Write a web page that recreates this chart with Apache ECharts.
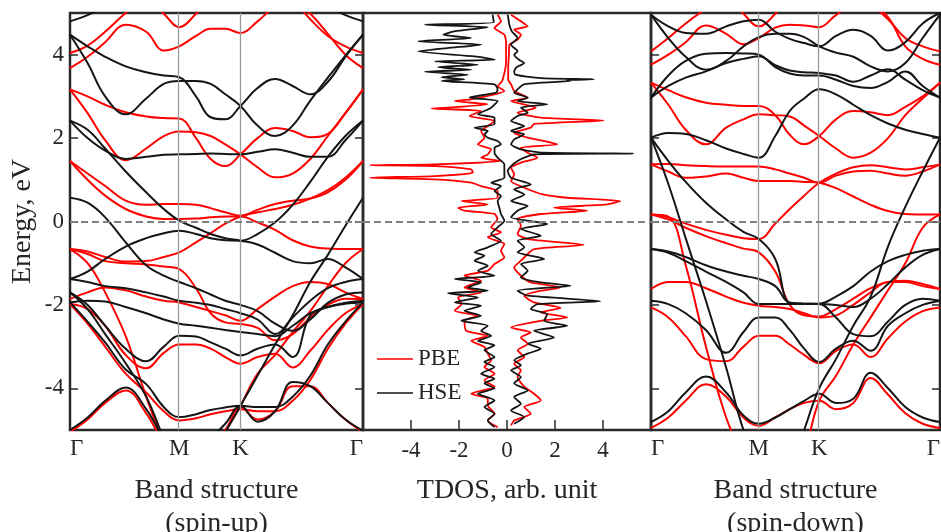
<!DOCTYPE html>
<html>
<head>
<meta charset="utf-8">
<script src="https://cdn.jsdelivr.net/npm/echarts@6/dist/echarts.min.js"></script>
<style>
html,body{margin:0;padding:0;background:#fff;}
#chart{width:941px;height:532px;}
</style>
</head>
<body>
<div id="chart"></div>
<script>
// ---------- axes / ticks ----------
const kGrid = [0, 0.06, 0.12, 0.19, 0.26, 0.32, 0.373, 0.43, 0.48, 0.53, 0.582, 0.64, 0.7, 0.76, 0.82, 0.88, 0.94, 1.0];
const kTicks = [0, 0.373, 0.582, 1];
const kLabels = ['Γ', 'M', 'K', 'Γ'];
const energyTicks = [-4, -2, 0, 2, 4];
const dosTicks = [-4, -2, 0, 2, 4];

// ---------- band structure, spin-up (energies at kGrid) ----------
const upPBE = [
  [4.04, 4.22, 4.55, 5.0, 5.35, 4.98, 4.66, 4.98, 5.35, 5.5, 5.6, 5.6, 5.5, 5.3, 4.85, 4.45, 4.2, 4.04],
  [3.68, 3.95, 4.3, 4.72, 4.55, 4.1, 4.2, 4.45, 4.62, 4.62, 4.52, 4.8, 5.15, 5.3, 4.98, 4.5, 4.0, 3.68],
  [3.17, 3.0, 2.8, 2.62, 2.52, 2.48, 2.47, 2.0, 1.5, 1.33, 1.61, 2.0, 2.24, 2.17, 2.02, 2.1, 2.6, 3.17],
  [3.17, 2.6, 1.95, 1.47, 1.75, 2.05, 2.16, 2.14, 2.05, 1.85, 1.61, 1.3, 1.06, 1.15, 1.5, 2.05, 2.6, 3.17],
  [1.45, 1.15, 0.85, 0.5, 0.4, 0.42, 0.42, 0.4, 0.32, 0.22, 0.14, 0.28, 0.42, 0.5, 0.55, 0.7, 1.0, 1.45],
  [1.45, 1.0, 0.62, 0.3, 0.12, 0.06, 0.06, 0.07, 0.1, 0.12, 0.12, -0.02, -0.2, -0.45, -0.6, -0.65, -0.66, -0.66],
  [-0.66, -0.72, -0.85, -0.96, -0.95, -0.85, -0.74, -0.5, -0.28, -0.05, 0.12, 0.22, 0.3, 0.4, 0.55, 0.75, 1.05, 1.45],
  [-0.66, -0.78, -0.95, -1.0, -1.03, -1.08, -1.14, -1.6, -2.2, -2.42, -2.46, -2.55, -2.85, -2.7, -2.3, -2.0, -1.85, -1.86],
  [-1.86, -1.7, -1.58, -1.65, -1.8, -1.9, -1.94, -2.05, -2.15, -2.25, -2.38, -2.1, -1.8, -1.55, -1.45, -1.5, -1.7, -1.86],
  [-1.98, -2.1, -2.5, -3.2, -3.52, -3.15, -2.95, -2.95, -3.05, -3.25, -3.41, -3.25, -3.17, -3.5, -3.1, -2.6, -2.2, -1.98],
  [-1.98, -2.45, -3.0, -3.65, -4.1, -4.55, -4.77, -4.72, -4.62, -4.55, -4.5, -4.55, -4.55, -4.3, -3.8, -3.05, -2.45, -1.98],
  [-5.05, -4.75, -4.35, -4.05, -4.6, -5.3, -5.7, -5.6, -5.3, -5.0, -4.45, -4.75, -4.55, -3.95, -3.95, -4.35, -4.75, -5.05],
  [-0.66, -1.0, -1.7, -2.75, -4.2, -5.3, -6.0, -6.3, -5.8, -5.05, -4.42, -3.65, -3.2, -2.65, -2.15, -1.55, -1.0, -0.66]
];
const upHSE = [
  [4.8, 4.95, 5.15, 5.4, 5.6, 5.6, 5.6, 5.6, 5.6, 5.6, 5.6, 5.6, 5.6, 5.6, 5.4, 5.15, 4.95, 4.8],
  [4.48, 4.2, 3.95, 3.72, 3.58, 3.5, 3.46, 3.0, 2.5, 2.45, 2.77, 3.2, 3.42, 3.25, 3.05, 3.35, 3.95, 4.48],
  [4.48, 3.8, 3.0, 2.57, 2.95, 3.3, 3.37, 3.37, 3.3, 3.05, 2.77, 2.3, 2.05, 2.3, 2.9, 3.45, 3.98, 4.48],
  [2.42, 2.0, 1.7, 1.5, 1.55, 1.6, 1.61, 1.62, 1.63, 1.62, 1.61, 1.67, 1.73, 1.65, 1.55, 1.55, 1.95, 2.42],
  [2.42, 2.2, 1.75, 1.2, 0.7, 0.3, 0.02, -0.15, -0.3, -0.4, -0.46, -0.55, -0.75, -0.95, -1.0, -0.9, -1.1, -1.38],
  [-1.38, -1.2, -0.9, -0.6, -0.4, -0.28, -0.22, -0.3, -0.4, -0.45, -0.46, -0.3, -0.02, 0.4, 0.95, 1.55, 2.05, 2.42],
  [0.57, 0.45, 0.1, -0.5, -1.05, -1.3, -1.45, -1.6, -1.75, -1.9, -2.0, -2.15, -2.45, -2.62, -2.35, -1.95, -1.75, -1.7],
  [-1.7, -2.1, -2.7, -3.4, -4.2, -5.2, -6.0, -6.3, -5.6, -5.05, -4.42, -3.7, -2.95, -2.25, -1.45, -0.8, -0.1, 0.57],
  [-1.38, -1.45, -1.55, -1.6, -1.7, -1.8, -1.9, -1.95, -2.0, -2.1, -2.2, -2.35, -2.7, -2.3, -1.9, -1.6, -1.45, -1.38],
  [-1.94, -1.9, -1.92, -2.05, -2.2, -2.35, -2.45, -2.5, -2.55, -2.6, -2.65, -2.7, -2.75, -2.5, -2.2, -2.05, -1.97, -1.94],
  [-1.7, -2.0, -2.5, -3.05, -3.35, -3.0, -2.74, -2.76, -2.9, -3.05, -3.21, -3.05, -2.95, -3.25, -2.25, -2.05, -1.95, -1.9],
  [-1.94, -2.4, -2.9, -3.55, -3.9, -4.45, -4.69, -4.62, -4.52, -4.46, -4.42, -4.45, -4.45, -4.2, -3.7, -2.95, -2.4, -1.94],
  [-5.0, -4.7, -4.3, -3.98, -4.5, -5.2, -5.6, -5.5, -5.2, -4.85, -4.42, -4.8, -4.55, -3.85, -3.95, -4.35, -4.75, -5.02]
];

// ---------- band structure, spin-down ----------
const downPBE = [
  [4.08, 4.4, 4.75, 5.1, 5.4, 4.98, 4.68, 4.98, 5.4, 5.5, 5.5, 5.5, 5.4, 5.2, 4.85, 4.4, 4.2, 4.08],
  [3.76, 4.0, 4.3, 4.7, 4.5, 4.25, 4.4, 4.65, 4.72, 4.7, 4.66, 4.95, 5.2, 5.2, 4.9, 4.2, 3.9, 3.76],
  [3.33, 3.15, 2.98, 2.85, 2.8, 2.77, 2.77, 2.55, 2.08, 1.85, 2.05, 2.45, 2.65, 2.62, 2.55, 2.75, 3.0, 3.33],
  [3.33, 2.8, 2.2, 1.85, 2.25, 2.45, 2.57, 2.55, 2.52, 2.3, 2.05, 1.75, 1.53, 1.65, 2.0, 2.55, 2.95, 3.33],
  [1.37, 1.38, 1.35, 1.33, 1.32, 1.32, 1.32, 1.25, 1.15, 1.05, 0.93, 1.1, 1.2, 1.22, 1.15, 1.1, 1.2, 1.37],
  [1.37, 1.2, 1.05, 1.08, 1.15, 1.05, 0.97, 0.97, 0.97, 0.95, 0.93, 0.8, 0.6, 0.4, 0.25, 0.18, 0.17, 0.17],
  [0.17, 0.1, -0.05, -0.2, -0.32, -0.4, -0.42, -0.05, 0.3, 0.62, 0.93, 1.15, 1.3, 1.35, 1.3, 1.25, 1.3, 1.37],
  [0.17, 0.05, -0.15, -0.35, -0.52, -0.65, -0.74, -1.2, -2.0, -2.25, -2.28, -2.1, -1.85, -1.6, -1.45, -1.42, -1.5, -1.62],
  [-1.62, -1.45, -1.45, -1.6, -1.8, -1.95, -2.02, -2.05, -2.1, -2.2, -2.3, -2.25, -2.0, -1.7, -1.45, -1.45, -1.55, -1.62],
  [-2.06, -2.3, -2.75, -3.3, -3.35, -3.0, -2.74, -2.74, -2.95, -3.2, -3.4, -3.1, -2.95, -3.25, -2.8, -2.4, -2.15, -2.06],
  [-4.95, -4.7, -4.3, -3.9, -4.2, -4.7, -4.9, -4.7, -4.5, -4.35, -4.3, -4.5, -4.35, -3.75, -4.15, -4.6, -4.85, -4.95],
  [0.17, 0.12, -1.05, -3.0, -4.7, -5.6, -6.0, -6.0, -6.0, -5.5, -4.3, -3.7, -2.95, -2.3, -1.65, -1.0, -0.15, 0.17]
];
const downHSE = [
  [4.96, 4.68, 4.52, 4.5, 4.68, 4.8, 4.84, 4.55, 4.38, 4.28, 4.2, 4.45, 4.6, 4.45, 4.1, 4.3, 4.75, 5.0],
  [4.96, 4.4, 3.95, 3.64, 3.85, 4.2, 4.42, 4.5, 4.5, 4.42, 4.2, 4.05, 3.95, 3.72, 3.6, 3.8, 4.4, 4.96],
  [2.97, 3.25, 3.45, 3.6, 3.8, 3.9, 3.96, 3.75, 3.62, 3.58, 3.56, 3.5, 3.35, 3.5, 3.65, 3.4, 3.15, 2.97],
  [2.97, 3.5, 3.85, 4.02, 4.04, 4.03, 4.0, 3.7, 3.55, 3.5, 3.5, 3.4, 3.25, 3.2, 3.35, 3.6, 3.25, 2.97],
  [2.01, 2.12, 2.1, 1.95, 1.75, 1.62, 1.53, 2.05, 2.65, 2.95, 3.17, 3.05, 2.8, 2.55, 2.35, 2.2, 2.1, 2.01],
  [2.01, 1.45, 0.95, 0.45, 0.05, -0.25, -0.42, -0.9, -1.95, -1.97, -1.97, -1.8, -1.55, -1.2, -0.95, -0.8, -0.7, -0.66],
  [2.01, 0.9, -0.4, -1.9, -3.5, -5.0, -5.8, -6.0, -6.0, -5.0, -4.0, -3.3, -2.5, -1.8, -0.6, 0.35, 1.2, 2.01],
  [-0.66, -0.72, -0.85, -1.05, -1.2, -1.3, -1.38, -1.55, -1.95, -1.97, -1.98, -2.3, -2.7, -2.75, -2.4, -2.0, -1.85, -1.9],
  [-0.66, -0.75, -0.95, -1.2, -1.45, -1.7, -1.98, -1.98, -1.98, -1.98, -1.98, -2.0, -2.05, -1.85, -1.5, -1.1, -0.8, -0.66],
  [-1.9, -1.98, -2.2, -2.6, -3.15, -2.65, -2.3, -2.3, -2.6, -3.05, -3.37, -3.05, -2.86, -3.1, -2.5, -2.2, -2.0, -1.9],
  [-4.81, -4.55, -4.1, -3.72, -4.1, -4.65, -4.85, -4.7, -4.5, -4.3, -4.13, -4.35, -4.25, -3.63, -4.0, -4.45, -4.7, -4.81]
];

// ---------- TDOS (energy, value) ----------
const hseLeftE = [4.96, 4.78, 4.72, 4.66, 4.56, 4.48, 4.40, 4.32, 4.24, 4.16, 4.08, 3.96, 3.88, 3.84, 3.76, 3.70, 3.64, 3.59, 3.52, 3.46, 3.41, 3.37, 3.29, 3.17, 3.09, 2.97, 2.89, 2.73, 2.57, 2.49, 2.33, 2.25, 2.17, 2.09, 2.01, 1.93, 1.85, 1.77, 1.65, 1.53, 1.37, 1.21, 1.05, 0.93, 0.85, 0.73, 0.61, 0.49, 0.33, 0.18, 0.02, -0.14, -0.30, -0.46, -0.62, -0.74, -0.82, -0.94, -1.06, -1.18, -1.30, -1.38, -1.46, -1.58, -1.66, -1.72, -1.82, -1.94, -2.02, -2.14, -2.26, -2.38, -2.50, -2.62, -2.74, -2.86, -2.97, -3.09, -3.25, -3.37, -3.49, -3.65, -3.77, -3.88, -4.00, -4.13, -4.29, -4.45, -4.61, -4.77, -4.93];
const hseLeft = [-0.6, -0.55, -3.42, -0.8, -2.2, -2.66, -1.5, -3.7, -1.08, -2.5, -3.7, -1.35, -0.5, -3.0, -1.21, -2.87, -1.49, -3.42, -1.63, -2.73, -1.77, -2.73, -0.52, -0.39, -0.45, -1.56, -0.39, -0.66, -1.21, -0.52, -0.52, -1.35, -0.8, -0.94, -0.8, -0.39, -0.25, -0.52, -0.52, -0.39, -0.11, -0.11, -0.11, -0.66, -0.25, -0.52, -0.25, -0.39, -0.32, -0.25, -0.11, -0.39, -0.66, -0.25, -0.8, -1.35, -0.94, -1.35, -0.8, -1.21, -0.52, -2.18, -1.08, -1.63, -0.8, -2.46, -1.21, -2.18, -1.08, -1.77, -1.08, -1.9, -0.8, -1.08, -0.66, -1.21, -0.52, -0.94, -0.52, -0.94, -0.52, -1.08, -0.52, -0.94, -0.52, -1.21, -0.52, -0.94, -0.52, -0.8, -0.52];
const hseRightE = [4.96, 4.72, 4.56, 4.40, 4.24, 4.08, 4.00, 3.88, 3.80, 3.70, 3.60, 3.52, 3.44, 3.41, 3.39, 3.37, 3.33, 3.29, 3.17, 3.09, 2.97, 2.89, 2.81, 2.73, 2.61, 2.53, 2.41, 2.29, 2.17, 2.09, 1.97, 1.85, 1.73, 1.65, 1.63, 1.61, 1.53, 1.45, 1.33, 1.21, 1.05, 0.89, 0.77, 0.65, 0.49, 0.37, 0.26, 0.10, -0.06, -0.18, -0.34, -0.46, -0.62, -0.74, -0.90, -1.02, -1.18, -1.34, -1.46, -1.54, -1.66, -1.78, -1.91, -1.98, -2.10, -2.22, -2.38, -2.50, -2.62, -2.78, -2.93, -3.05, -3.17, -3.33, -3.45, -3.57, -3.73, -3.88, -4.05, -4.21, -4.37, -4.53, -4.69, -4.85];
const hseRight = [0.03, 0.1, 0.2, 0.44, 0.17, 0.44, 0.3, 0.5, 0.72, 0.4, 0.3, 0.35, 1.4, 3.62, 2.5, 2.65, 1.41, 0.7, 0.44, 0.3, 0.86, 0.44, 1.68, 0.58, 0.86, 0.44, 0.17, 0.72, 0.17, 0.72, 0.3, 0.17, 0.58, 1.5, 5.27, 1.13, 0.72, 0.44, 0.17, 0.03, 0.17, 0.99, 0.3, 0.72, 0.17, 0.86, 0.44, 0.17, 1.68, 0.58, 1.41, 0.44, 0.72, 0.44, 1.55, 0.58, 0.86, 0.58, 1.41, 2.65, 0.44, 0.86, 3.89, 1.27, 0.99, 1.68, 1.55, 2.51, 1.13, 1.96, 0.86, 1.41, 0.86, 0.3, 0.58, 0.17, 0.58, 0.3, 0.86, 0.3, 0.58, 0.17, 0.72, 0.3];
const pbeRightE = [4.96, 4.80, 4.68, 4.60, 4.48, 4.36, 4.24, 4.00, 3.70, 3.40, 3.29, 3.13, 2.97, 2.89, 2.73, 2.61, 2.49, 2.42, 2.34, 2.25, 2.13, 2.01, 1.85, 1.77, 1.65, 1.53, 1.41, 1.29, 1.13, 0.97, 0.81, 0.65, 0.57, 0.49, 0.41, 0.33, 0.26, 0.18, 0.06, -0.10, -0.30, -0.42, -0.56, -0.66, -0.78, -0.94, -1.10, -1.30, -1.46, -1.58, -1.66, -1.78, -1.94, -2.07, -2.18, -2.30, -2.38, -2.54, -2.66, -2.78, -2.93, -3.09, -3.25, -3.41, -3.57, -3.73, -3.96, -4.13, -4.29, -4.45, -4.61, -4.77, -4.89];
const pbeRight = [0.17, 0.58, 0.86, 0.3, 0.58, 0.44, 0.1, 0.08, 0.05, 0.05, 0.17, 0.3, 0.86, 0.17, 1.2, 0.44, 1.41, 4.03, 1.13, 0.99, 0.3, 0.86, 2.1, 0.58, 0.86, 1.27, 0.58, 0.17, 0.3, 0.17, 0.72, 1.5, 2.51, 4.72, 4.17, 1.96, 3.34, 1.41, 0.44, 0.58, 0.44, 0.86, 3.2, 1.13, 0.86, 0.58, 0.3, 0.58, 0.99, 2.24, 1.41, 0.72, 1.13, 2.24, 1.41, 2.51, 1.41, 0.17, 0.99, 0.58, 0.86, 0.44, 0.72, 0.3, 0.58, 0.44, 0.72, 1.13, 1.41, 0.72, 0.99, 0.3, 0.17];
const pbeLeftE = [4.96, 4.80, 4.64, 4.48, 4.30, 3.80, 3.37, 3.25, 3.13, 3.01, 2.93, 2.89, 2.81, 2.73, 2.71, 2.65, 2.53, 2.41, 2.29, 2.17, 2.01, 1.85, 1.73, 1.61, 1.53, 1.45, 1.37, 1.35, 1.33, 1.25, 1.17, 1.09, 1.05, 1.01, 0.93, 0.85, 0.73, 0.57, 0.49, 0.41, 0.33, 0.26, 0.18, 0.06, -0.14, -0.26, -0.38, -0.54, -0.70, -0.86, -1.02, -1.18, -1.30, -1.42, -1.58, -1.70, -1.82, -1.98, -2.14, -2.26, -2.38, -2.62, -2.74, -2.86, -3.01, -3.17, -3.33, -3.49, -3.65, -3.81, -3.96, -4.13, -4.25, -4.41, -4.61, -4.77, -4.93];
const pbeLeft = [-0.39, -0.25, -0.52, -0.11, -0.04, -0.04, -0.2, -0.39, -0.11, -0.8, -1.5, -2.18, -0.8, -2.5, -3.15, -1.08, -1.56, -0.52, -0.8, -1.08, -0.94, -1.21, -0.66, -0.8, -1.08, -0.25, -3.0, -5.7, -3.0, -1.49, -1.42, -3.0, -5.7, -3.0, -1.49, -1.08, -0.39, -0.39, -1.9, -0.8, -2.04, -1.77, -0.52, -0.4, -0.66, -0.25, -0.8, -0.11, -0.25, -0.11, -0.52, -0.8, -1.77, -1.08, -1.77, -1.08, -2.04, -1.9, -2.18, -1.21, -1.77, -1.7, -0.8, -1.49, -0.94, -0.8, -0.66, -0.94, -0.52, -0.94, -0.52, -1.49, -0.8, -0.8, -0.52, -0.8, -0.39];

// ---------- styles ----------
const FONT = '"Liberation Serif", "Times New Roman", serif';
const RED = '#ff0000';
const BLACK = '#151515';
const TXT = '#262626';
const FRAME = '#2a2a2a';

function bandSeries(bands, name, color, xi, yi) {
  return bands.map(b => ({
    type: 'line', name: name, xAxisIndex: xi, yAxisIndex: yi,
    data: kGrid.map((k, i) => [k, b[i]]),
    smooth: 0.4, symbol: 'none', silent: true, z: 3, clip: true,
    lineStyle: { color: color, width: 2 }, itemStyle: { color: color }
  }));
}
function dosSeries(es, vs, name, color) {
  return {
    type: 'line', name: name, xAxisIndex: 1, yAxisIndex: 2,
    data: es.map((e, i) => [vs[i], e]),
    smooth: 0.2, symbol: 'none', silent: true, z: 3, clip: true,
    lineStyle: { color: color, width: 1.8 }, itemStyle: { color: color }
  };
}
function guideSeries(xi, yi, withK) {
  const arr = [];
  if (withK) {
    arr.push({
      type: 'line', name: 'guide', xAxisIndex: xi, yAxisIndex: yi, data: [], z: 1, silent: true,
      markLine: { silent: true, symbol: 'none', label: { show: false }, animation: false,
        lineStyle: { color: '#9a9a9a', width: 1.3, type: 'solid' },
        data: kTicks.slice(1, 3).map(k => ({ xAxis: k })) }
    });
  }
  arr.push({
    type: 'line', name: 'zero', xAxisIndex: xi, yAxisIndex: yi, data: [], z: 6, silent: true,
    markLine: { silent: true, symbol: 'none', label: { show: false }, animation: false,
      lineStyle: { color: '#808080', width: 2, type: [7, 4] },
      data: [{ yAxis: 0 }] }
  });
  return arr;
}

const yTickCommon = { show: true, inside: true, length: 8, customValues: energyTicks, lineStyle: { color: FRAME, width: 1.5 } };
function yAx(gi, pos, labels, ticks, extra) {
  return Object.assign({
    type: 'value', gridIndex: gi, position: pos, min: -5, max: 5,
    axisLine: { show: false, onZero: false }, splitLine: { show: false },
    axisTick: ticks ? yTickCommon : { show: false },
    axisLabel: labels ? { show: true, customValues: energyTicks, fontSize: 23, fontFamily: FONT, color: TXT, margin: 6 } : { show: false }
  }, extra || {});
}
function bandX(gi, title) {
  return {
    type: 'value', gridIndex: gi, min: 0, max: 1, position: 'bottom',
    axisLine: { show: false, onZero: false }, splitLine: { show: false }, axisTick: { show: false },
    axisLabel: {
      show: true, customValues: kTicks, fontSize: 23, fontFamily: FONT, color: TXT, margin: 7,
      alignMinLabel: 'left', alignMaxLabel: 'right',
      formatter: v => { const i = kTicks.findIndex(t => Math.abs(t - v) < 1e-6); return i >= 0 ? kLabels[i] : ''; }
    },
    name: title, nameLocation: 'middle', nameGap: 44,
    nameTextStyle: { fontSize: 28, fontFamily: FONT, color: TXT, lineHeight: 33 }
  };
}

const gridCommon = { top: 13, height: 417, show: true, borderColor: FRAME, borderWidth: 2.5, backgroundColor: 'rgba(0,0,0,0)', containLabel: false, outerBoundsMode: 'none' };

const option = {
  animation: false,
  backgroundColor: '#ffffff',
  textStyle: { fontFamily: FONT },
  grid: [
    Object.assign({ left: 70, width: 293 }, gridCommon),
    Object.assign({ left: 363, width: 288 }, gridCommon),
    Object.assign({ left: 651, width: 289 }, gridCommon)
  ],
  legend: {
    data: ['PBE', 'HSE'], orient: 'vertical', left: 372, top: 342,
    icon: 'rect', itemWidth: 36, itemHeight: 1.6, itemGap: 10, selectedMode: false,
    textStyle: { fontSize: 23, fontFamily: FONT, color: TXT, lineHeight: 24 }
  },
  xAxis: [
    bandX(0, 'Band structure\n(spin-up)'),
    {
      type: 'value', gridIndex: 1, min: -6, max: 6, position: 'bottom',
      axisLine: { show: false, onZero: false }, splitLine: { show: false },
      axisTick: { show: true, inside: true, length: 10, customValues: dosTicks, lineStyle: { color: FRAME, width: 1.5 } },
      axisLabel: { show: true, customValues: dosTicks, fontSize: 23, fontFamily: FONT, color: TXT, margin: 9 },
      name: 'TDOS, arb. unit', nameLocation: 'middle', nameGap: 44,
      nameTextStyle: { fontSize: 28, fontFamily: FONT, color: TXT, lineHeight: 33 }
    },
    bandX(2, 'Band structure\n(spin-down)')
  ],
  yAxis: [
    yAx(0, 'left', true, true, { name: 'Energy, eV', nameLocation: 'middle', nameGap: 33,
      nameTextStyle: { fontSize: 28, fontFamily: FONT, color: TXT } }),
    yAx(0, 'right', false, true),
    yAx(1, 'left', false, false),
    yAx(2, 'left', false, true),
    yAx(2, 'right', false, true)
  ],
  series: [].concat(
    guideSeries(0, 0, true),
    guideSeries(1, 2, false),
    guideSeries(2, 3, true),
    bandSeries(upPBE, 'PBE', RED, 0, 0),
    bandSeries(upHSE, 'HSE', BLACK, 0, 0),
    [dosSeries(pbeLeftE, pbeLeft, 'PBE', RED), dosSeries(pbeRightE, pbeRight, 'PBE', RED),
     dosSeries(hseLeftE, hseLeft, 'HSE', BLACK), dosSeries(hseRightE, hseRight, 'HSE', BLACK)],
    bandSeries(downPBE, 'PBE', RED, 2, 3),
    bandSeries(downHSE, 'HSE', BLACK, 2, 3)
  )
};

const chart = echarts.init(document.getElementById('chart'), null, { renderer: 'canvas', width: 941, height: 532 });
chart.setOption(option);
</script>
</body>
</html>
